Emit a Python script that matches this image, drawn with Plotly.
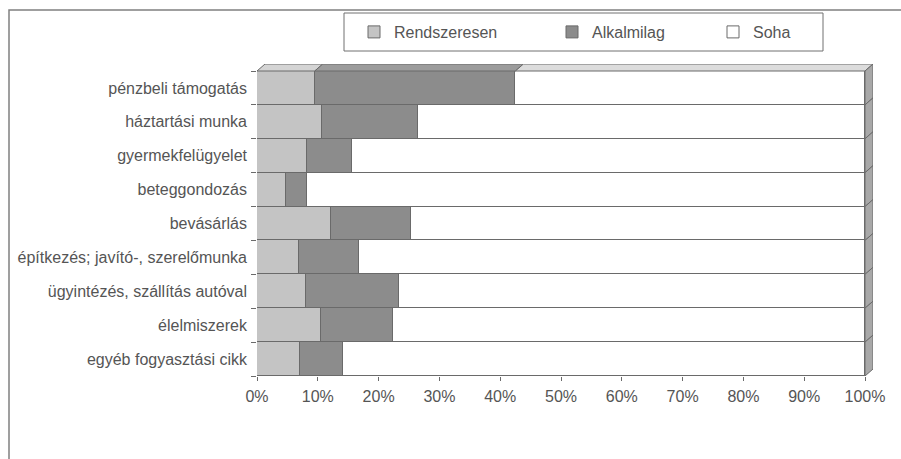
import plotly.graph_objects as go

categories = ["pénzbeli támogatás", "háztartási munka", "gyermekfelügyelet",
              "beteggondozás", "bevásárlás", "építkezés; javító-, szerelőmunka",
              "ügyintézés, szállítás autóval", "élelmiszerek", "egyéb fogyasztási cikk"]
rendszeresen = [9.5, 10.7, 8.3, 4.8, 12.2, 6.9, 8.1, 10.5, 7.0]
alkalmilag = [33.0, 15.7, 7.3, 3.5, 13.1, 9.8, 15.3, 11.9, 7.1]
soha = [57.5, 73.6, 84.4, 91.7, 74.7, 83.3, 76.6, 77.6, 85.9]
series_names = ["Rendszeresen", "Alkalmilag", "Soha"]
x_ticks = [0, 10, 20, 30, 40, 50, 60, 70, 80, 90, 100]
x_tick_labels = ["0%", "10%", "20%", "30%", "40%", "50%", "60%", "70%", "80%", "90%", "100%"]

W, H = 901, 459
L, R, T, B = 257, 28, 64, 83
PW, PH = W - L - R, H - T - B
DX_PX, DY_PX = 8, 7

n = len(categories)
ypos = list(range(n))[::-1]
px_per_x = (PW - DX_PX) / 100.0
dx = DX_PX / px_per_x
px_per_y = (PH - DY_PX) / n
dy = DY_PX / px_per_y

def pxx(p):
    return (p - L) / PW

def pxy(p):
    return (H - B - p) / PH

fill_cols = ["#c4c4c4", "#8c8c8c", "#ffffff"]
top_cols = ["#d4d4d4", "#9c9c9c", "#dcdcdc"]
edge = "#6a6a6a"
font = dict(family="Liberation Sans, Arial, sans-serif", size=16, color="#555555")

fig = go.Figure()
legends = ["legend", "legend2", "legend3"]
for name, vals, col, lg in zip(series_names, [rendszeresen, alkalmilag, soha], fill_cols, legends):
    fig.add_trace(go.Bar(y=ypos, x=vals, name=name, orientation="h", width=1,
                         marker=dict(color=col, line=dict(color=edge, width=1)),
                         legend=lg, hoverinfo="x+name"))

shapes = []
# top face of the top bar
top_i = 0
yt = ypos[top_i] + 0.5
start = 0.0
for vals, col in zip([rendszeresen, alkalmilag, soha], top_cols):
    a, b = start, start + vals[top_i]
    shapes.append(dict(type="path", xref="x", yref="y",
                       path=f"M{a},{yt} L{b},{yt} L{b+dx},{yt+dy} L{a+dx},{yt+dy} Z",
                       fillcolor=col, line=dict(color=edge, width=1), layer="above"))
    start = b
# right faces
for i in range(n):
    y0, y1 = ypos[i] - 0.5, ypos[i] + 0.5
    shapes.append(dict(type="path", xref="x", yref="y",
                       path=f"M100,{y0} L{100+dx},{y0+dy} L{100+dx},{y1+dy} L100,{y1} Z",
                       fillcolor="#a8a8a8", line=dict(color=edge, width=1), layer="above"))
# legend box
shapes.append(dict(type="rect", xref="paper", yref="paper",
                   x0=pxx(344), x1=pxx(823), y0=pxy(51), y1=pxy(13),
                   line=dict(color="#707070", width=1), fillcolor="rgba(0,0,0,0)"))
# outer chart frame
shapes.append(dict(type="rect", xref="paper", yref="paper",
                   x0=pxx(9), x1=pxx(930), y0=pxy(490), y1=pxy(10),
                   line=dict(color="#808080", width=1.5), fillcolor="rgba(0,0,0,0)"))

leg_common = dict(orientation="h", yanchor="middle", xanchor="left",
                  xref="container", yref="container",
                  bgcolor="rgba(0,0,0,0)", borderwidth=0, font=font)
layout_leg = {}
for lg, lx in zip(legends, [354, 552, 713]):
    layout_leg[lg] = dict(x=lx / W, y=1 - 32 / H, **leg_common)

fig.update_layout(
    width=W, height=H, margin=dict(l=L, r=R, t=T, b=B, autoexpand=False),
    barmode="stack", bargap=0,
    plot_bgcolor="white", paper_bgcolor="white",
    font=font, shapes=shapes, showlegend=True,
    xaxis=dict(range=[0, 100 + dx], tickvals=x_ticks, ticktext=x_tick_labels,
               showgrid=False, zeroline=False, showline=False,
               ticks="outside", ticklen=4, tickcolor=edge, tickfont=font,
               ticklabelstandoff=2, fixedrange=True, automargin=False),
    yaxis=dict(range=[-0.5, n - 0.5 + dy], tickvals=ypos, ticktext=categories,
               showgrid=False, zeroline=False, showline=False, ticks="",
               minor=dict(tickvals=[k - 0.5 for k in range(n + 1)], ticks="outside",
                          ticklen=5, tickcolor=edge),
               tickfont=font, ticklabelstandoff=9, fixedrange=True, automargin=False),
    **layout_leg,
)

fig.write_html("out.html", config={"displayModeBar": False},
               post_script="document.body.style.margin='0';")
